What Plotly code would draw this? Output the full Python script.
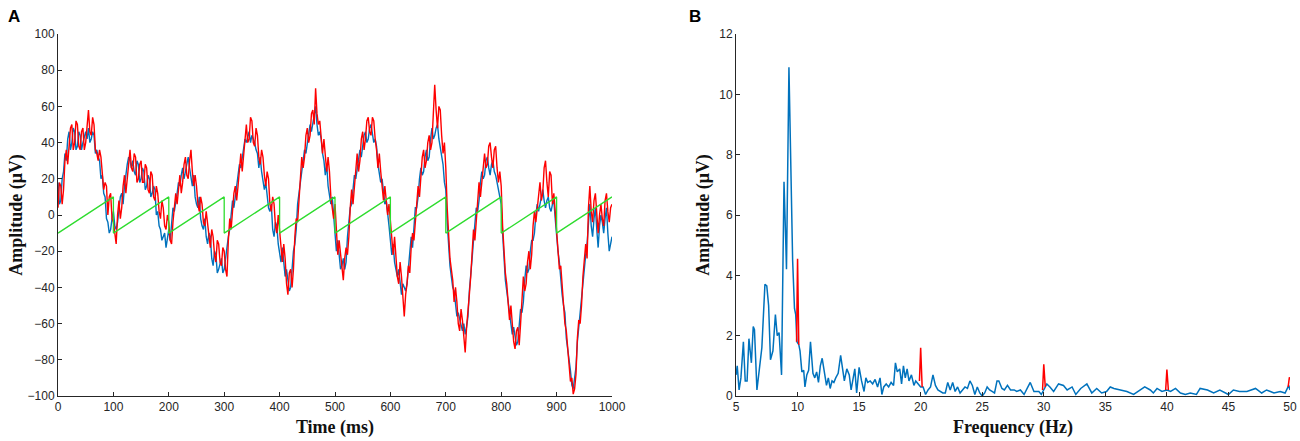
import numpy as np
import plotly.graph_objects as go

# ---- panel A: time course, values every 2.5 ms ----
STEP_MS = 2.5
time_ms = np.arange(0, 1000 + STEP_MS / 2, STEP_MS)

red_uv = [
    4, 18, 16, 6, 14, 30, 36, 28, 38, 48, 50, 36, 40, 52, 50, 38, 36, 46, 48, 36,
    40, 52, 58, 46, 44, 54, 50, 36, 34, 30, 36, 32, 20, 14, 18, 16, 0, 10, 12, -2,
    -4, -12, -16, 0, 8, -2, 4, 16, 22, 12, 20, 30, 36, 26, 24, 34, 32, 18, 20, 28,
    30, 18, 18, 28, 26, 14, 12, 24, 22, 10, 8, 16, 12, 2, -2, 8, 4, -6, -8, 0,
    -4, -14, -16, -4, 6, 12, 6, 14, 22, 12, 18, 28, 32, 22, 20, 30, 36, 24, 16, 22,
    16, 6, 2, 10, 6, -4, -6, 2, -4, -12, -18, -8, -12, -22, -26, -14, -16, -26, -28, -18,
    -20, -30, -34, -14, -2, -8, 2, 12, 16, 8, 16, 28, 34, 24, 32, 44, 50, 40, 42, 54,
    52, 40, 38, 48, 44, 32, 28, 36, 32, 22, 16, 24, 20, 6, 2, 10, 6, -6, -10, 0,
    -8, -20, -26, -16, -24, -38, -44, -32, -30, -40, -30, -12, -2, -4, 10, 24, 32, 26, 32, 44,
    48, 40, 44, 56, 58, 50, 70, 56, 50, 52, 40, 34, 42, 30, 24, 32, 24, 10, 4, -2,
    6, -10, -22, -14, -22, -32, -36, -24, -18, -22, -12, 4, 14, 6, 16, 28, 34, 24, 30, 42,
    46, 36, 42, 52, 54, 46, 44, 54, 52, 42, 36, 26, 34, 24, 16, 8, 16, 6, 0, 6,
    -4, -16, -22, -12, -22, -34, -38, -26, -34, -46, -56, -44, -38, -28, -32, -18, -10, -14, -4, 8,
    16, 10, 20, 32, 36, 26, 30, 40, 44, 36, 40, 56, 72, 58, 48, 60, 58, 44, 34, 40,
    26, 4, -12, -24, -30, -36, -48, -40, -48, -60, -64, -52, -58, -70, -76, -62, -50, -44, -34, -20,
    -8, -14, -4, 10, 18, 10, 18, 30, 34, 26, 28, 38, 40, 32, 26, 36, 38, 26, 18, 24,
    16, -6, -20, -32, -38, -46, -58, -50, -60, -70, -74, -64, -62, -72, -60, -44, -34, -42, -38, -26,
    -20, -30, -22, -6, 2, -4, 4, 14, 18, 8, 12, 26, 30, 18, 10, 24, 22, 6, 12, 2,
    -8, -18, -30, -28, -38, -52, -60, -64, -74, -86, -92, -90, -99, -96, -88, -68, -58, -60, -50, -34,
    -26, -16, -24, 4, 16, 2, -4, 8, 12, -2, -10, 0, 6, -2, -6, 8, 12, 2, -4, 4,
    6,
]

blue_uv = [
    18, 6, 8, 20, 24, 34, 30, 42, 46, 36, 40, 48, 46, 36, 38, 46, 44, 36, 40, 44,
    46, 42, 48, 40, 42, 46, 44, 34, 36, 32, 30, 20, 22, 12, 10, -2, -4, -10, -8, -2,
    2, -6, -8, -4, 2, 10, 12, 6, 16, 24, 28, 32, 30, 26, 30, 24, 22, 30, 28, 18,
    20, 26, 24, 14, 16, 22, 20, 10, 12, 16, 14, 0, 2, -6, -8, -14, -12, -10, -18, -12,
    -8, -14, -6, 4, 2, 6, 12, 18, 16, 22, 26, 20, 24, 30, 32, 26, 22, 16, 22, 10,
    6, 4, 10, -2, -6, -8, -2, -12, -16, -10, -12, -24, -28, -20, -22, -32, -30, -26, -24, -32,
    -30, -24, -16, -12, -8, 2, 8, 4, 10, 18, 22, 28, 26, 32, 36, 42, 40, 44, 46, 40,
    44, 42, 40, 36, 34, 26, 32, 24, 20, 14, 18, 10, 4, 2, 6, -8, -12, -4, -6, -16,
    -22, -26, -18, -28, -34, -30, -36, -42, -40, -28, -20, -16, -8, 6, 14, 18, 24, 30, 36, 34,
    40, 46, 50, 46, 50, 56, 60, 50, 44, 46, 42, 34, 30, 22, 28, 16, 12, 6, 10, -2,
    -10, -20, -14, -22, -30, -28, -24, -30, -26, -12, -4, 4, 6, 14, 22, 20, 26, 32, 36, 32,
    38, 44, 46, 40, 42, 48, 50, 44, 40, 42, 38, 28, 24, 18, 20, 12, 6, 8, 2, -6,
    -14, -22, -16, -26, -30, -34, -30, -38, -44, -38, -40, -42, -38, -28, -22, -12, -18, -6, 4, 4,
    10, 20, 26, 22, 24, 32, 36, 30, 32, 42, 48, 42, 44, 48, 50, 42, 38, 34, 28, 18,
    14, -4, -18, -28, -34, -40, -42, -50, -56, -54, -58, -62, -64, -60, -66, -62, -56, -42, -30, -24,
    -14, -2, 4, 2, 8, 18, 24, 20, 22, 30, 32, 26, 22, 28, 30, 24, 22, 18, 14, 8,
    6, -10, -26, -36, -42, -48, -52, -60, -66, -62, -66, -72, -70, -58, -52, -54, -48, -36, -28, -32,
    -30, -20, -14, -14, -10, 0, 6, 2, 6, 12, 14, 8, 4, 8, 10, 4, 2, 6, 8, -2,
    -12, -20, -26, -36, -44, -50, -54, -68, -76, -80, -86, -94, -96, -90, -84, -70, -62, -50, -44, -36,
    -30, -22, -16, -2, 6, -6, -12, -2, 4, -8, -18, -6, 0, -4, -10, -2, 4, -10, -20, -16,
    -12,
]

# sawtooth reference (-10 -> +10 every 100 ms)
saw_t = [0, 100, 100, 200, 200, 300, 300, 400, 400, 500, 500,
         600, 600, 700, 700, 800, 800, 900, 900, 1000]
saw_v = [-10, 10, -10, 10, -10, 10, -10, 10, -10, 10, -10,
         10, -10, 10, -10, 10, -10, 10, -10, 10]

# ---- panel B: amplitude spectrum ----
freq_hz = [
    5.0, 5.1, 5.25, 5.4, 5.6, 5.75, 5.9, 6.05, 6.25, 6.4, 6.5, 6.7, 6.9, 7.1, 7.35, 7.5,
    7.65, 7.8, 8.0, 8.2, 8.35, 8.5, 8.7, 8.9, 9.05, 9.1, 9.3, 9.45, 9.6, 9.75, 9.85, 9.95,
    10.1, 10.2, 10.35, 10.5, 10.6, 10.75, 10.9, 11.05, 11.25, 11.4, 11.55, 11.7, 11.85, 12.0,
    12.2, 12.35, 12.5, 12.65, 12.8, 12.95, 13.1, 13.3, 13.5, 13.65, 13.8, 14.0, 14.2, 14.35,
    14.5, 14.65, 14.8, 15.0, 15.2, 15.4, 15.55, 15.7, 15.9, 16.1, 16.3, 16.5, 16.7, 16.85,
    17.0, 17.2, 17.4, 17.6, 17.8, 17.95, 18.1, 18.3, 18.45, 18.6, 18.75, 18.9, 19.05, 19.25,
    19.45, 19.6, 19.8, 20.0, 20.2, 20.4, 20.6, 20.8, 21.0, 21.2, 21.4, 21.6, 21.8, 22.0,
    22.2, 22.4, 22.6, 22.8, 23.0, 23.2, 23.4, 23.6, 23.8, 24.0, 24.2, 24.4, 24.6, 24.8,
    25.0, 25.2, 25.4, 25.6, 25.8, 26.0, 26.2, 26.35, 26.6, 26.8, 27.05, 27.3, 27.6, 27.8,
    28.1, 28.4, 28.65, 28.9, 29.2, 29.6, 29.8, 30.0, 30.25, 30.5, 30.8, 31.2, 31.6, 31.9,
    32.3, 32.6, 33.0, 33.5, 33.9, 34.3, 34.7, 35.1, 35.4, 35.7, 36.2, 36.75, 37.3, 37.85,
    38.2, 38.65, 38.9, 39.2, 39.6, 40.0, 40.3, 40.7, 41.1, 41.5, 41.9, 42.4, 42.7, 43.3,
    43.8, 44.3, 45.0, 45.4, 45.9, 46.5, 47.2, 47.7, 48.1, 48.7, 49.2, 49.6, 49.9, 50.0,
]
amp_uv = [
    0.7, 1.0, 0.2, 0.6, 1.8, 0.5, 0.5, 1.9, 1.1, 2.3, 2.2, 0.2, 0.9, 1.6, 3.7, 3.65,
    3.0, 1.2, 1.5, 2.7, 2.0, 2.1, 0.7, 7.1, 5.0, 4.2, 10.9, 8.0, 4.5, 2.9, 2.7, 1.8,
    1.7, 1.5, 0.8, 0.85, 0.3, 0.7, 0.85, 1.8, 0.75, 0.6, 0.8, 0.45, 1.0, 1.25,
    0.8, 0.35, 0.6, 0.25, 0.5, 0.45, 0.6, 0.75, 1.35, 0.9, 0.5, 0.9, 0.7, 0.2,
    0.6, 0.9, 0.1, 0.95, 0.5, 0.15, 0.6, 0.45, 0.5, 0.4, 0.55, 0.3, 0.6, 0.05,
    0.3, 0.4, 0.3, 0.45, 0.35, 1.1, 0.8, 0.9, 0.4, 1.0, 0.6, 0.9, 0.5, 0.7,
    0.35, 0.5, 0.4, 0.3, 0.3, 0.05, 0.2, 0.3, 0.7, 0.35, 0.2, 0.15, 0.1, 0.1,
    0.45, 0.2, 0.45, 0.15, 0.3, 0.1, 0.2, 0.3, 0.25, 0.5, 0.35, 0.05, 0.3, 0.1,
    0.0, 0.1, 0.3, 0.2, 0.15, 0.1, 0.5, 0.5, 0.25, 0.2, 0.35, 0.2, 0.2, 0.15,
    0.2, 0.05, 0.25, 0.45, 0.15, 0.15, 0.05, 0.2, 0.4, 0.3, 0.15, 0.4, 0.35, 0.2,
    0.3, 0.05, 0.25, 0.4, 0.1, 0.25, 0.1, 0.15, 0.3, 0.25, 0.2, 0.15, 0.05, 0.2,
    0.3, 0.2, 0.1, 0.25, 0.15, 0.2, 0.15, 0.25, 0.1, 0.05, 0.1, 0.05, 0.25, 0.2,
    0.1, 0.2, 0.05, 0.2, 0.15, 0.15, 0.25, 0.1, 0.2, 0.1, 0.15, 0.1, 0.35, 0.2,
]

# stimulation frequency and harmonics (red)
harm_f = [9.92, 10.0, 10.1, None, 19.9, 20.0, 20.12, None, 29.9, 30.0, 30.12, None,
          39.9, 40.0, 40.12, None, 49.85, 49.95, 50.0]
harm_a = [1.8, 4.55, 1.7, None, 0.5, 1.6, 0.3, None, 0.2, 1.05, 0.3, None,
          0.2, 0.88, 0.2, None, 0.3, 0.62, 0.55]

BLUE = '#0072BD'
RED = '#FF0000'
GREEN = '#2EDC2E'
AXCOL = '#262626'

fig = go.Figure()
fig.add_trace(go.Scatter(x=time_ms, y=blue_uv, mode='lines',
                         line=dict(color=BLUE, width=1.4), xaxis='x', yaxis='y'))
fig.add_trace(go.Scatter(x=time_ms, y=red_uv, mode='lines',
                         line=dict(color=RED, width=1.4), xaxis='x', yaxis='y'))
fig.add_trace(go.Scatter(x=saw_t, y=saw_v, mode='lines',
                         line=dict(color=GREEN, width=1.3), xaxis='x', yaxis='y'))
fig.add_trace(go.Scatter(x=freq_hz, y=amp_uv, mode='lines',
                         line=dict(color=BLUE, width=1.5), xaxis='x2', yaxis='y2'))
fig.add_trace(go.Scatter(x=harm_f, y=harm_a, mode='lines',
                         line=dict(color=RED, width=1.5), xaxis='x2', yaxis='y2'))

tick_font = dict(family='Liberation Sans, Arial', size=12, color=AXCOL)
title_font = dict(family='Liberation Serif, Times New Roman', size=18, color='#111111')

axis_common = dict(showline=True, linecolor=AXCOL, linewidth=1, ticks='inside',
                   ticklen=4, tickcolor=AXCOL, showgrid=False, zeroline=False,
                   tickfont=tick_font, mirror=False, automargin=False)

# plot areas in screen pixels (body margin is removed in post_script)
FW, FH = 1300, 441
A_X0, A_X1 = 58, 612
B_X0, B_X1 = 736, 1290
Y_TOP, Y_BOT = 34, 396
ML, MR, MT, MB = A_X0, FW - B_X1, Y_TOP, FH - Y_BOT
W = FW - ML - MR
H = FH - MT - MB


def px_to_paper(px, py):
    return (px - ML) / W, 1 - (py - MT) / H


ax, ay = px_to_paper(13.5, 16)
bx, by = px_to_paper(695, 16)

fig.update_layout(
    width=FW, height=FH,
    margin=dict(l=ML, r=MR, t=MT, b=MB),
    paper_bgcolor='white', plot_bgcolor='white',
    showlegend=False,
    xaxis=dict(domain=[0, (A_X1 - ML) / W], range=[0, 1000], dtick=100,
               anchor='y', title=dict(text='<b>Time (ms)</b>', font=title_font, standoff=6),
               **axis_common),
    yaxis=dict(domain=[0, 1], range=[-100, 100], dtick=20,
               anchor='x', title=dict(text='<b>Amplitude (μV)</b>', font=title_font, standoff=0),
               **axis_common),
    xaxis2=dict(domain=[(B_X0 - ML) / W, 1], range=[5, 50], dtick=5,
                anchor='y2', title=dict(text='<b>Frequency (Hz)</b>', font=title_font, standoff=6),
                **axis_common),
    yaxis2=dict(domain=[0, 1], range=[0, 12], dtick=2,
                anchor='x2', title=dict(text='<b>Amplitude (μV)</b>', font=title_font, standoff=4),
                **axis_common),
    annotations=[
        dict(text='<b>A</b>', x=ax, y=ay, xref='paper', yref='paper', xanchor='center',
             yanchor='middle', showarrow=False,
             font=dict(family='Liberation Sans, Arial', size=17, color='black')),
        dict(text='<b>B</b>', x=bx, y=by, xref='paper', yref='paper', xanchor='center',
             yanchor='middle', showarrow=False,
             font=dict(family='Liberation Sans, Arial', size=17, color='black')),
    ],
)

fig.write_html('out.html', config={'displayModeBar': False},
               post_script="document.body.style.margin='0px';"
                           "document.body.style.overflow='hidden';")
